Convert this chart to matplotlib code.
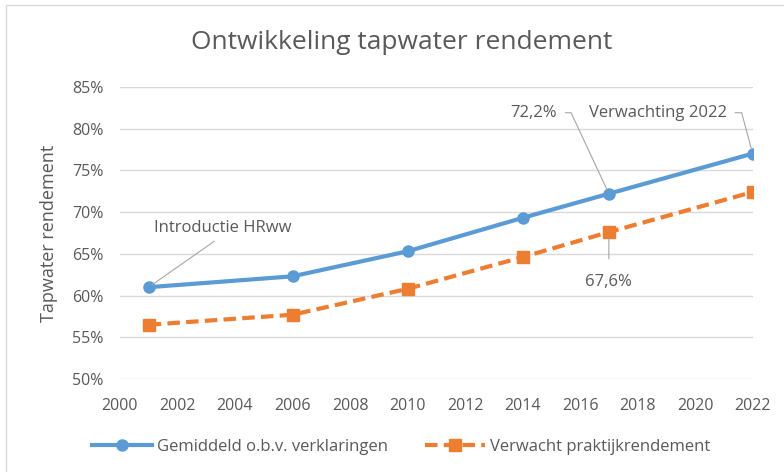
import matplotlib.pyplot as plt
import matplotlib.ticker as mticker
from matplotlib.patches import Rectangle

years = [2001, 2006, 2010, 2014, 2017, 2022]
gemiddeld = [61.0, 62.3, 65.3, 69.3, 72.2, 77.0]
verwacht = [56.5, 57.7, 60.8, 64.6, 67.6, 72.4]
x_ticks = list(range(2000, 2023, 2))
y_ticks = [50, 55, 60, 65, 70, 75, 80, 85]

blue = '#5B9BD5'
orange = '#ED7D31'
grey = '#595959'

plt.rcParams['font.family'] = ['Open Sans', 'DejaVu Sans']

fig = plt.figure(figsize=(7.84, 4.72), dpi=100)
# chart frame, only top and left edges fall inside the picture
fig.patches.append(Rectangle((0.008, -0.1), 1.1, 1.089, transform=fig.transFigure,
                             fill=False, edgecolor='#d9d9d9', linewidth=1))
ax = fig.add_axes([0.153, 0.197, 0.807, 0.619])

ax.plot(years, gemiddeld, color=blue, linewidth=3, marker='o', markersize=8,
        label='Gemiddeld o.b.v. verklaringen', zorder=3)
ax.plot(years, verwacht, color=orange, linewidth=3, linestyle=(0, (3, 1.5)), marker='s',
        markersize=8, label='Verwacht praktijkrendement', zorder=3)

ax.set_xlim(2000, 2022)
ax.set_ylim(50, 85)
ax.set_xticks(x_ticks)
ax.set_yticks(y_ticks)
ax.yaxis.set_major_formatter(mticker.FuncFormatter(lambda v, p: '%d%%' % v))
ax.grid(axis='y', color='#d9d9d9', linewidth=1)
ax.set_axisbelow(True)
for s in ax.spines.values():
    s.set_visible(False)
ax.tick_params(length=0, labelsize=11.5, colors=grey)
ax.yaxis.set_tick_params(pad=12)
ax.xaxis.set_tick_params(pad=14)
ax.set_ylabel('Tapwater rendement', fontsize=13, color=grey, labelpad=10)
fig.text(0.512, 0.91, 'Ontwikkeling tapwater rendement', fontsize=19, color=grey,
         ha='center', va='center')

lc = '#a6a6a6'
fs = 12
ax.annotate('Introductie HRww', xy=(years[0], gemiddeld[0]), xytext=(2001.2, 68.1),
            fontsize=fs, color=grey, ha='left', va='center',
            arrowprops=dict(arrowstyle='-', color=lc, lw=0.8, shrinkA=3, shrinkB=3,
                            relpos=(0.49, 0)))
ax.annotate('72,2%', xy=(years[4], gemiddeld[4]), xytext=(2015.2, 81.9),
            fontsize=fs, color=grey, ha='right', va='center',
            arrowprops=dict(arrowstyle='-', color=lc, lw=0.8, shrinkA=4, shrinkB=3,
                            connectionstyle='angle,angleA=0,angleB=115,rad=0', relpos=(1, 0.5)))
ax.annotate('Verwachting 2022', xy=(years[5], gemiddeld[5]), xytext=(2016.3, 81.9),
            fontsize=fs, color=grey, ha='left', va='center',
            arrowprops=dict(arrowstyle='-', color=lc, lw=0.8, shrinkA=4, shrinkB=4,
                            connectionstyle='angle,angleA=0,angleB=105,rad=0', relpos=(1, 0.5)))
ax.annotate('67,6%', xy=(years[4], verwacht[4]), xytext=(years[4], 61.6),
            fontsize=fs, color=grey, ha='center', va='center',
            arrowprops=dict(arrowstyle='-', color=lc, lw=0.8, shrinkA=9, shrinkB=5))

fig.legend(loc='center', bbox_to_anchor=(0.512, 0.053), ncol=2, frameon=False,
           fontsize=12, labelcolor=grey, handlelength=3.6, columnspacing=2.2,
           handletextpad=0.3)

fig.savefig('out.png', dpi=100)
